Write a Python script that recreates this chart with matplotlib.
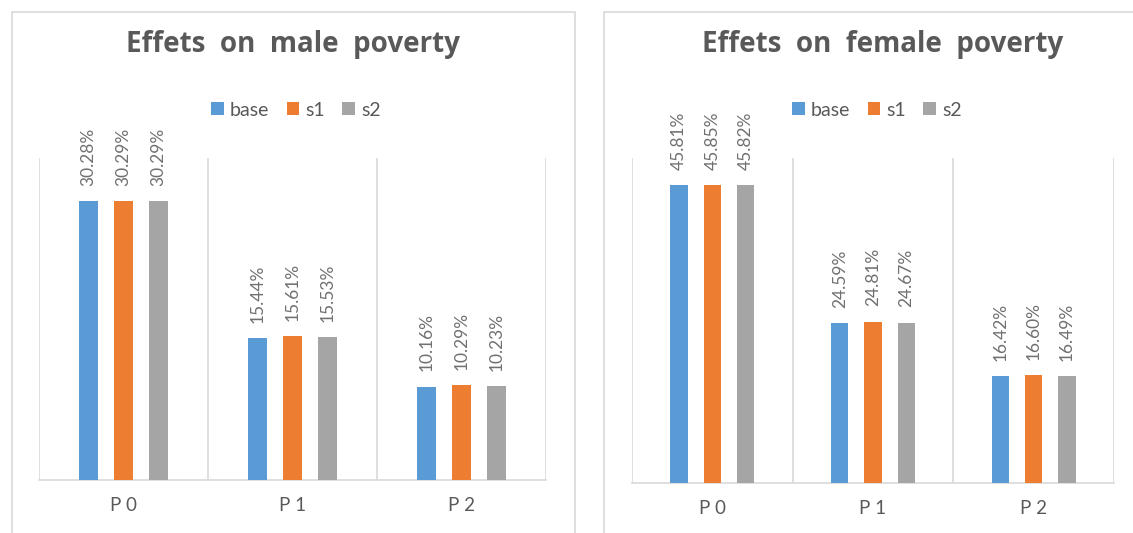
import numpy as np
import matplotlib.pyplot as plt
from matplotlib.patches import Rectangle

categories = ["P 0", "P 1", "P 2"]
series = ["base", "s1", "s2"]
male_base = [30.28, 15.44, 10.16]
male_s1 = [30.29, 15.61, 10.29]
male_s2 = [30.29, 15.53, 10.23]
female_base = [45.81, 24.59, 16.42]
female_s1 = [45.85, 24.81, 16.60]
female_s2 = [45.82, 24.67, 16.49]

colors = ["#5B9BD5", "#ED7D31", "#A5A5A5"]
text_col = "#595959"
grid_col = "#D9D9D9"

plt.rcParams['font.family'] = ['Lato', 'DejaVu Sans']

fig = plt.figure(figsize=(11.33, 5.33), dpi=100)

# chart borders
fig.patches.append(Rectangle((12/1133, -0.01), (575-12)/1133, (533-12)/533 + 0.01,
                             transform=fig.transFigure, fill=False, ec=grid_col, lw=1.2))
fig.patches.append(Rectangle((604/1133, -0.01), 0.5, (533-12)/533 + 0.01,
                             transform=fig.transFigure, fill=False, ec=grid_col, lw=1.2))


def draw(ax, data, ymax, title, title_x, legend_x):
    x = np.arange(len(categories))
    w = 0.107
    step = 0.207
    for i, (vals, name) in enumerate(zip(data, series)):
        pos = x + (i - 1) * step
        ax.bar(pos, vals, w, color=colors[i], label=name, zorder=3)
        for p, v in zip(pos, vals):
            ax.annotate(f"{v:.2f}%", (p, v), xytext=(0, 11), textcoords="offset points",
                        rotation=90, ha="center", va="bottom", fontsize=12.5, color="#707070")
    ax.set_xlim(-0.5, 2.5)
    ax.set_ylim(0, ymax)
    for s in ["top", "left", "right"]:
        ax.spines[s].set_visible(False)
    ax.spines["bottom"].set_color(grid_col)
    ax.spines["bottom"].set_linewidth(1.2)
    for b in [-0.5, 0.5, 1.5, 2.5]:
        ax.axvline(b, color=grid_col, lw=1.2, zorder=1)
    ax.set_yticks([])
    ax.set_xticks(x)
    ax.set_xticklabels(categories, fontsize=13.5, color=text_col)
    ax.tick_params(axis="x", length=0, pad=12)
    fig.text(title_x, 1 - 45/533, title, ha="center", va="center", fontsize=20,
             fontweight="bold", color=text_col, family=["Open Sans", "DejaVu Sans"])
    ax.legend(loc="center", bbox_to_anchor=(legend_x, 1 - 110/533), bbox_transform=fig.transFigure,
              ncol=3, frameon=False, fontsize=14, labelcolor=text_col, handlelength=0.65,
              handleheight=0.65, handletextpad=0.3, columnspacing=0.9)


ax1 = fig.add_axes([39/1133, 53/533, 507/1133, 322/533])
draw(ax1, [male_base, male_s1, male_s2], 35, "Effets  on  male  poverty", 293/1133, 296/1133)

ax2 = fig.add_axes([632/1133, 50/533, 482/1133, 325/533])
draw(ax2, [female_base, female_s1, female_s2], 50, "Effets  on  female  poverty", 883/1133, 877/1133)

fig.savefig("out.png", dpi=100)
